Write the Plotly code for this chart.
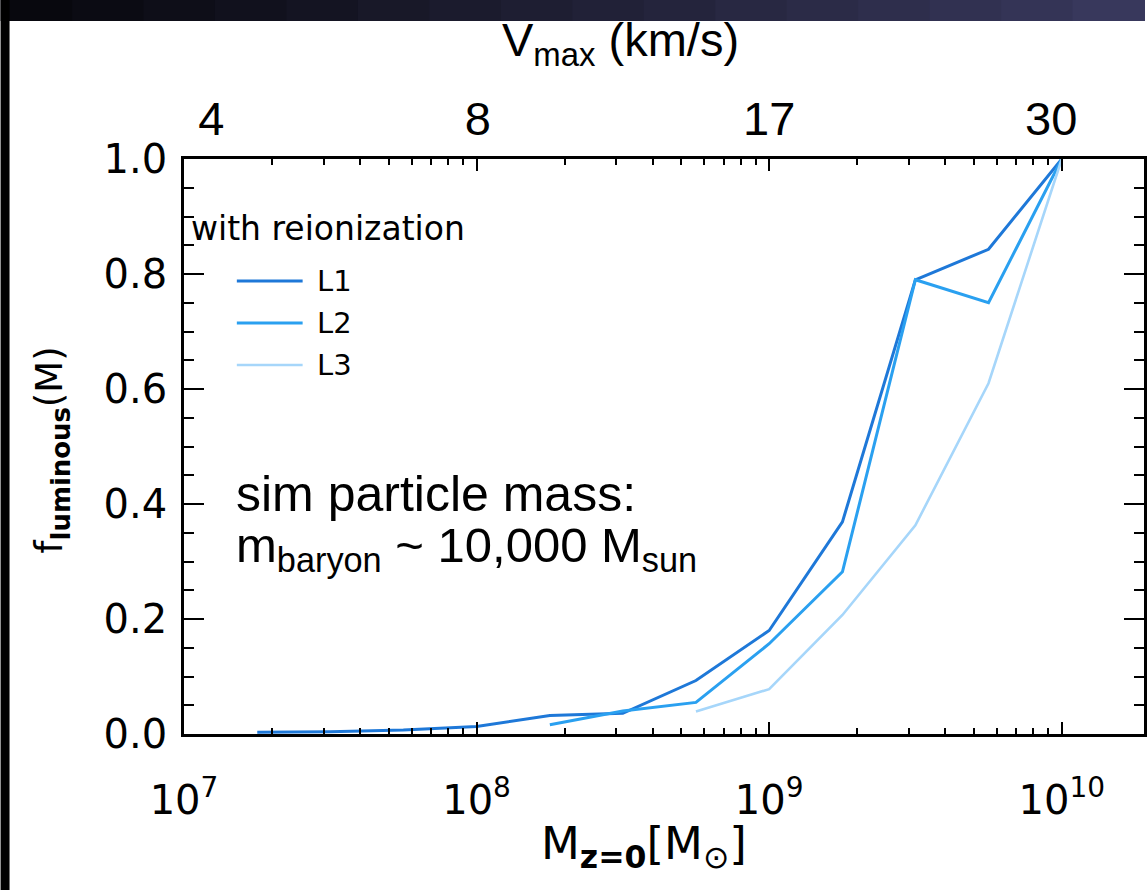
import numpy as np
import plotly.graph_objects as go

# ---------------- data ----------------
mass_L1 = [1.78e7, 3.16e7, 5.62e7, 1e8, 1.78e8, 3.16e8, 5.62e8, 1e9, 1.78e9, 3.16e9, 5.62e9, 1e10]
f_L1 = [0.003, 0.004, 0.007, 0.013, 0.032, 0.036, 0.093, 0.180, 0.369, 0.790, 0.843, 1.0]
mass_L2 = [1.78e8, 3.16e8, 5.62e8, 1e9, 1.78e9, 3.16e9, 5.62e9, 1e10]
f_L2 = [0.016, 0.040, 0.055, 0.157, 0.282, 0.790, 0.750, 1.0]
mass_L3 = [5.62e8, 1e9, 1.78e9, 3.16e9, 5.62e9, 1e10]
f_L3 = [0.039, 0.078, 0.207, 0.363, 0.610, 1.0]

series_names = ["L1", "L2", "L3"]
series_colors = ["#1e78d8", "#2aa0f0", "#a6d6fa"]

x_major = [1e7, 1e8, 1e9, 1e10]
x_major_text = ["10<sup>7</sup>", "10<sup>8</sup>", "10<sup>9</sup>", "10<sup>10</sup>"]
x_minor = [m * 10 ** d for d in range(7, 11) for m in range(2, 10)]

vmax_labels = ["4", "8", "17", "30"]
vmax_mass = [1.24e7, 1.01e8, 1e9, 9.2e9]

# ---------------- geometry ----------------
FW, FH = 1147, 890
L, T, W, H = 184, 159, 963, 575
XR = [7, 7 + W / 293.5]


def px(x):
    return (x - L) / W


def py(y):
    return (T + H - y) / H


fig = go.Figure()
for name, xs, ys, col, lw in zip(series_names, [mass_L1, mass_L2, mass_L3],
                                  [f_L1, f_L2, f_L3], series_colors, [3, 3, 2.6]):
    fig.add_trace(go.Scatter(x=xs, y=ys, mode="lines", name=name,
                             line=dict(color=col, width=lw), showlegend=False))

# invisible trace to attach top (Vmax) axis
fig.add_trace(go.Scatter(x=[vmax_mass[0]], y=[0.5], xaxis="x2", mode="markers",
                         marker=dict(opacity=0), showlegend=False, hoverinfo="skip"))

idl_font = "DejaVu Sans"
fig.update_layout(
    width=FW, height=FH,
    margin=dict(l=L, r=FW - L - W, t=T, b=FH - T - H),
    paper_bgcolor="white", plot_bgcolor="white",
    xaxis=dict(type="log", range=XR, tickvals=x_major, ticktext=x_major_text,
               ticks="inside", ticklen=12, tickwidth=2.2, tickcolor="black",
               showline=True, linewidth=2.6, linecolor="black", mirror="ticks",
               showgrid=False, zeroline=False,
               tickfont=dict(family=idl_font, size=40, color="black"),
               ticklabelstandoff=29,
               minor=dict(ticks="inside", ticklen=6, tickwidth=2, tickcolor="black",
                          tickmode="array", tickvals=x_minor, showgrid=False)),
    xaxis2=dict(type="log", range=XR, overlaying="x", side="top",
                tickvals=vmax_mass, ticktext=vmax_labels, ticks="",
                showline=False, showgrid=False, zeroline=False,
                tickfont=dict(family="Liberation Sans, Arial", size=47, color="black"),
                ticklabelstandoff=14),
    yaxis=dict(range=[0, 1], dtick=0.2, tickformat=".1f",
               ticks="inside", ticklen=20, tickwidth=2.2, tickcolor="black",
               showline=True, linewidth=2.6, linecolor="black", mirror="ticks",
               showgrid=False, zeroline=False,
               tickfont=dict(family=idl_font, size=40, color="black"),
               ticklabelstandoff=6,
               minor=dict(ticks="inside", ticklen=10, tickwidth=2, tickcolor="black",
                          dtick=0.05, showgrid=False)),
)

shapes = []
# dark border bands (slide background)
nstrip = 16
for i in range(nstrip):
    t = i / (nstrip - 1)
    r = int(8 + t * (56 - 8))
    g = int(8 + t * (56 - 8))
    b = int(14 + t * (92 - 14))
    shapes.append(dict(type="rect", xref="paper", yref="paper",
                       x0=px(i * FW / nstrip), x1=px((i + 1) * FW / nstrip + 1),
                       y0=py(0), y1=py(21), fillcolor=f"rgb({r},{g},{b})",
                       line=dict(width=0), layer="above"))
shapes.append(dict(type="rect", xref="paper", yref="paper", x0=px(0), x1=px(9),
                   y0=py(0), y1=py(FH), fillcolor="black", line=dict(width=0), layer="above"))

# legend samples
leg_y = [281, 323, 365]
for col, yy, lw in zip(series_colors, leg_y, [3, 3, 2.6]):
    shapes.append(dict(type="line", xref="paper", yref="paper", x0=px(237), x1=px(303),
                       y0=py(yy), y1=py(yy), line=dict(color=col, width=lw)))
fig.update_layout(shapes=shapes)

ann = []
ann.append(dict(text="with reionization", xref="paper", yref="paper", x=px(189), y=py(228),
                xanchor="left", yanchor="middle", showarrow=False,
                font=dict(family=idl_font, size=33, color="black")))
for name, yy in zip(series_names, leg_y):
    ann.append(dict(text=name, xref="paper", yref="paper", x=px(315), y=py(yy),
                    xanchor="left", yanchor="middle", showarrow=False,
                    font=dict(family=idl_font, size=29, color="black")))
ann.append(dict(text="sim particle mass:", xref="paper", yref="paper", x=px(234), y=py(494),
                xanchor="left", yanchor="middle", showarrow=False,
                font=dict(family="Liberation Sans, Arial", size=50, color="black")))
ann.append(dict(text="m<sub>baryon</sub> ~ 10,000 M<sub>sun</sub>", xref="paper", yref="paper",
                x=px(234), y=py(548), xanchor="left", yanchor="middle", showarrow=False,
                font=dict(family="Liberation Sans, Arial", size=49, color="black")))
ann.append(dict(text="V<sub>max</sub> (km/s)", xref="paper", yref="paper", x=px(622), y=py(43),
                xanchor="center", yanchor="middle", showarrow=False,
                font=dict(family="Liberation Sans, Arial", size=47, color="black")))
ann.append(dict(text="f<sub><b>luminous</b></sub>(M)", xref="paper", yref="paper", x=px(52), y=py(450),
                xanchor="center", yanchor="middle", showarrow=False, textangle=-90,
                font=dict(family=idl_font, size=37, color="black")))
ann.append(dict(text="M<sub><b>z=0</b></sub>[M<sub>\u2299</sub>]", xref="paper", yref="paper",
                x=px(645), y=py(846), xanchor="center", yanchor="middle", showarrow=False,
                font=dict(family=idl_font, size=45, color="black")))
fig.update_layout(annotations=ann)

fig.write_html("out.html", config={"displayModeBar": False},
               post_script="document.body.style.margin='0px';document.body.style.overflow='hidden';")
